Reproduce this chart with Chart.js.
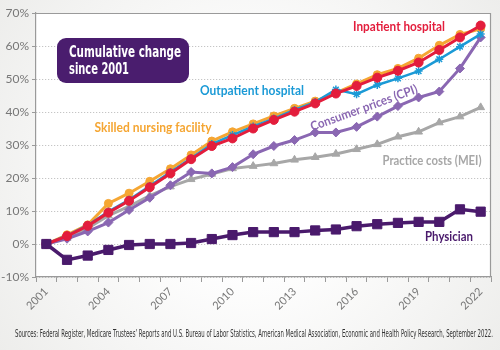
<!DOCTYPE html>
<html>
<head>
<meta charset="utf-8">
<script src="https://cdn.jsdelivr.net/npm/chart.js@4.4.0/dist/chart.umd.min.js"></script>
<style>
  html, body { margin: 0; padding: 0; background: #fff; }
  #wrap { width: 500px; height: 350px; }
</style>
</head>
<body>
<div id="wrap"><canvas id="chart" width="500" height="350"></canvas></div>
<script>
const years = ['2001', '2002', '2003', '2004', '2005', '2006', '2007', '2008', '2009', '2010', '2011',
  '2012', '2013', '2014', '2015', '2016', '2017', '2018', '2019', '2020', '2021', '2022'];

// cumulative change since 2001, in percent
const inpatient  = [0, 2.4, 5.5, 9.5, 13.1, 17.2, 21.4, 25.7, 29.7, 32.0, 35.0, 37.6, 40.1, 42.6, 45.6, 47.9, 50.4, 52.5, 55.0, 58.8, 62.6, 66.2];
const outpatient = [0, 2.5, 5.7, 9.8, 13.4, 17.6, 21.8, 26.0, 30.3, 33.0, 35.6, 38.0, 40.6, 43.0, 46.8, 45.4, 48.2, 50.2, 52.4, 56.0, 59.8, 63.6];
const skilled    = [0, 2.8, 5.8, 12.3, 15.4, 19.0, 22.8, 27.0, 31.2, 34.0, 36.4, 38.8, 41.1, 43.3, 45.8, 48.5, 51.3, 53.2, 56.3, 60.2, 63.5, 65.2];
const cpi        = [0, 1.6, 3.8, 6.5, 10.3, 14.0, 17.8, 21.8, 21.4, 23.3, 27.2, 29.7, 31.5, 33.8, 33.8, 35.5, 38.6, 41.8, 44.4, 46.2, 53.2, 62.6];
const mei        = [0, 1.8, 4.8, 8.6, 11.4, 14.7, 17.4, 19.6, 21.2, 22.9, 23.6, 24.4, 25.5, 26.3, 27.3, 28.7, 30.2, 32.5, 34.0, 36.8, 38.6, 41.4];
const physician  = [0, -4.8, -3.5, -1.8, -0.3, 0, 0, 0.3, 1.5, 2.7, 3.6, 3.6, 3.6, 4.1, 4.4, 5.4, 6.0, 6.4, 6.7, 6.7, 10.5, 9.8];

const yTicks = [-10, 0, 10, 20, 30, 40, 50, 60, 70];
const xLabelYears = ['2001', '2004', '2007', '2010', '2013', '2016', '2019', '2022'];

const colors = {
  inpatient: '#e31d3c',
  outpatient: '#1b9ad6',
  skilled: '#f5a633',
  cpi: '#8a67b2',
  mei: '#a7a7a7',
  physician: '#4a1a6c'
};

const sourceText = 'Sources: Federal Register, Medicare Trustees\u2019 Reports and U.S. Bureau of Labor Statistics, American Medical Association, Economic and Health Policy Research, September 2022.';

function series(label, data, color, style, radius, width, order) {
  return {
    label, data, order,
    borderColor: color,
    backgroundColor: color,
    pointBackgroundColor: color,
    pointBorderColor: color,
    pointStyle: style,
    pointRadius: radius,
    pointBorderWidth: style === 'star' ? 1.5 : 1,
    borderWidth: width,
    tension: 0
  };
}

function label(ctx, str, x, y, color, size, maxW, angle) {
  ctx.save();
  ctx.translate(x, y);
  if (angle) ctx.rotate(angle * Math.PI / 180);
  ctx.font = 'bold ' + size + 'px Lato, "Open Sans", sans-serif';
  ctx.fillStyle = color;
  ctx.textAlign = 'center';
  ctx.textBaseline = 'middle';
  ctx.fillText(str, 0, 0, maxW);
  ctx.restore();
}

const decor = {
  id: 'decor',
  beforeDraw(chart) {
    const { ctx, width, height, chartArea: a } = chart;
    ctx.save();
    const g = ctx.createRadialGradient(width / 2, height / 2, 90, width / 2, height / 2, 330);
    g.addColorStop(0, '#ffffff');
    g.addColorStop(1, '#ebebe9');
    ctx.fillStyle = g;
    ctx.fillRect(0, 0, width, height);
    ctx.fillStyle = '#ffffff';
    ctx.fillRect(a.left, a.top, a.right - a.left, a.bottom - a.top);
    ctx.restore();
  },
  beforeDatasetsDraw(chart) {
    const { ctx, chartArea: a } = chart;
    ctx.save();
    ctx.strokeStyle = '#9a9a9a';
    ctx.lineWidth = 1.2;
    ctx.beginPath();
    ctx.moveTo(a.left, a.top + 0.5);
    ctx.lineTo(a.right - 0.5, a.top + 0.5);
    ctx.lineTo(a.right - 0.5, a.bottom);
    ctx.stroke();
    ctx.restore();
  },
  afterDraw(chart) {
    const { ctx } = chart;
    // title box
    ctx.save();
    ctx.fillStyle = '#4a1d6e';
    ctx.beginPath();
    ctx.roundRect(57, 38, 132, 45, 9);
    ctx.fill();
    ctx.fillStyle = '#ffffff';
    ctx.font = 'bold 16px "DejaVu Sans Condensed", Lato, sans-serif';
    ctx.textBaseline = 'middle';
    ctx.fillText('Cumulative change', 69, 53, 112);
    ctx.fillText('since 2001', 69, 70, 60);
    ctx.restore();

    label(ctx, 'Inpatient hospital', 399, 27, colors.inpatient, 12.5, 92);
    label(ctx, 'Outpatient hospital', 252, 91, colors.outpatient, 12.5, 104);
    label(ctx, 'Skilled nursing facility', 153, 128, colors.skilled, 12.5, 117);
    label(ctx, 'Consumer prices (CPI)', 364, 108, colors.cpi, 12.5, 113, -20);
    label(ctx, 'Practice costs (MEI)', 432, 161, colors.mei, 12.5, 99);
    label(ctx, 'Physician', 449, 237, colors.physician, 12.5, 48);

    ctx.save();
    ctx.font = '10px "DejaVu Sans Condensed", "Liberation Sans", sans-serif';
    ctx.fillStyle = '#333';
    ctx.textAlign = 'center';
    ctx.textBaseline = 'middle';
    ctx.fillText(sourceText, 254, 334, 478);
    ctx.restore();
  }
};

new Chart(document.getElementById('chart'), {
  type: 'line',
  data: {
    labels: years,
    datasets: [
      series('Inpatient hospital', inpatient, colors.inpatient, 'circle', 4.5, 3, 1),
      series('Outpatient hospital', outpatient, colors.outpatient, 'star', 4, 2.5, 2),
      series('Skilled nursing facility', skilled, colors.skilled, 'circle', 4, 3, 3),
      series('Consumer prices (CPI)', cpi, colors.cpi, 'rectRot', 4.5, 3, 4),
      series('Practice costs (MEI)', mei, colors.mei, 'triangle', 4.5, 3, 5),
      series('Physician', physician, colors.physician, 'rect', 6.5, 3.5, 0)
    ]
  },
  options: {
    responsive: false,
    animation: false,
    layout: { padding: { top: 13, right: 9, bottom: 30, left: 0 } },
    plugins: {
      legend: { display: false },
      tooltip: { enabled: false }
    },
    scales: {
      x: {
        offset: true,
        grid: { drawOnChartArea: false, drawTicks: true, tickLength: 5, color: '#9a9a9a', offset: true },
        border: { display: true, color: '#9a9a9a', width: 1.2 },
        ticks: {
          autoSkip: false,
          minRotation: 45,
          maxRotation: 45,
          color: '#777',
          font: { family: 'Lato, "Open Sans", sans-serif', size: 11 },
          callback(v, i) {
            const y = years[i];
            return xLabelYears.includes(y) ? y : '';
          }
        },
        afterFit(scale) { scale.height = 43; }
      },
      y: {
        min: yTicks[0],
        max: yTicks[yTicks.length - 1],
        afterBuildTicks(scale) { scale.ticks = yTicks.map(v => ({ value: v })); },
        grid: { color: '#b8b8b8', lineWidth: 1, tickLength: 4, tickColor: '#9a9a9a', tickBorderDash: [] },
        border: { display: true, color: '#9a9a9a', width: 1.2, dash: [1, 2] },
        ticks: {
          color: '#777',
          padding: 3,
          font: { family: 'Lato, "Open Sans", sans-serif', size: 12 },
          callback: v => v + '%'
        },
        afterFit(scale) { scale.width = 36; }
      }
    }
  },
  plugins: [decor]
});
</script>
</body>
</html>
